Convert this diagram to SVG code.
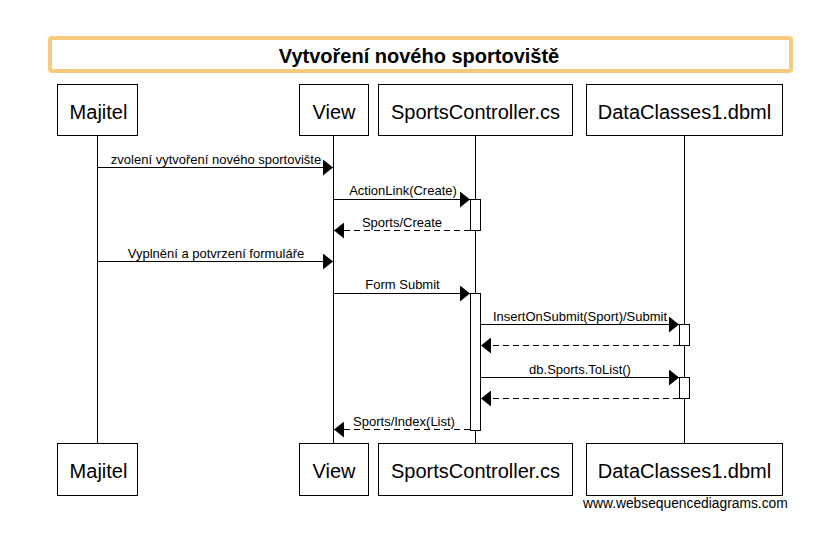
<svg xmlns="http://www.w3.org/2000/svg" width="828" height="552" viewBox="0 0 828 552">
  <style>
    .box { fill: #ffffff; stroke: #000000; stroke-width: 1; }
    .life { stroke: #000000; stroke-width: 1; fill: none; }
    .act { fill: #ffffff; stroke: #000000; stroke-width: 1; }
    .pname { font-family: "Liberation Sans", Arial, sans-serif; font-size: 20px; fill: #000000; text-anchor: middle; }
    .msg { stroke: #000000; stroke-width: 1; fill: none; marker-end: url(#ah); }
    .ret { stroke-dasharray: 6 4; }
    .lbl { font-family: "Liberation Sans", Arial, sans-serif; font-size: 13px; fill: #000000; text-anchor: middle; }
    .title { font-family: "Liberation Sans", Arial, sans-serif; font-size: 20px; font-weight: bold; fill: #000000; text-anchor: middle; }
  </style>
  <defs>
    <marker id="ah" viewBox="0 0 10 16" refX="10" refY="8" markerWidth="10" markerHeight="16" markerUnits="userSpaceOnUse" orient="auto">
      <path d="M0,0 L10,8 L0,16 Z" fill="#000000"/>
    </marker>
  </defs>
  <rect width="828" height="552" fill="#ffffff"/>

  <g id="title">
    <rect x="50" y="38" width="741" height="33" rx="2" fill="#ffffff" stroke="#f7ca7c" stroke-width="4"/>
    <text class="title" x="419" y="63">Vytvoření nového sportoviště</text>
  </g>

  <g id="lifelines">
    <line class="life" x1="97.5" y1="135.5" x2="97.5" y2="443.5"/>
    <line class="life" x1="333.5" y1="135.5" x2="333.5" y2="443.5"/>
    <line class="life" x1="475.5" y1="135.5" x2="475.5" y2="443.5"/>
    <line class="life" x1="684.5" y1="135.5" x2="684.5" y2="443.5"/>
  </g>

  <g id="majitel">
    <rect class="box" x="57.5" y="84.5" width="80" height="51"/>
    <text class="pname" x="98.5" y="118.5">Majitel</text>
    <rect class="box" x="57.5" y="443.5" width="80" height="52"/>
    <text class="pname" x="98.5" y="477.5">Majitel</text>
  </g>
  <g id="view">
    <rect class="box" x="299.5" y="84.5" width="69" height="51"/>
    <text class="pname" x="334" y="118.5">View</text>
    <rect class="box" x="299.5" y="443.5" width="69" height="52"/>
    <text class="pname" x="334" y="477.5">View</text>
  </g>
  <g id="sportscontroller">
    <rect class="box" x="378.5" y="84.5" width="194" height="51"/>
    <text class="pname" x="475.5" y="118.5">SportsController.cs</text>
    <rect class="box" x="378.5" y="443.5" width="194" height="52"/>
    <text class="pname" x="475.5" y="477.5">SportsController.cs</text>
  </g>
  <g id="dataclasses">
    <rect class="box" x="586.5" y="84.5" width="196" height="51"/>
    <text class="pname" x="684.5" y="118.5">DataClasses1.dbml</text>
    <rect class="box" x="586.5" y="443.5" width="196" height="52"/>
    <text class="pname" x="684.5" y="477.5">DataClasses1.dbml</text>
  </g>

  <g id="activations">
    <rect class="act" x="470.5" y="199.5" width="10" height="31"/>
    <rect class="act" x="470.5" y="293.5" width="10" height="137"/>
    <rect class="act" x="679.5" y="324.5" width="10" height="21"/>
    <rect class="act" x="679.5" y="377.5" width="10" height="21"/>
  </g>

  <g id="connectors">
    <line class="msg" x1="97.5" y1="167.5" x2="333" y2="167.5"/>
    <text class="lbl" x="216" y="164">zvolení vytvoření nového sportovište</text>

    <line class="msg" x1="333.5" y1="199.5" x2="470" y2="199.5"/>
    <text class="lbl" x="403" y="195">ActionLink(Create)</text>

    <line class="msg ret" x1="470" y1="230.5" x2="334" y2="230.5"/>
    <text class="lbl" x="402" y="226.5">Sports/Create</text>

    <line class="msg" x1="97.5" y1="261.5" x2="333" y2="261.5"/>
    <text class="lbl" x="216" y="257.5">Vyplnění a potvrzení formuláře</text>

    <line class="msg" x1="333.5" y1="293.5" x2="470" y2="293.5"/>
    <text class="lbl" x="402.5" y="289">Form Submit</text>

    <line class="msg" x1="480.5" y1="324.5" x2="679" y2="324.5"/>
    <text class="lbl" x="580" y="320.5">InsertOnSubmit(Sport)/Submit</text>

    <line class="msg ret" x1="679" y1="345.5" x2="481" y2="345.5"/>

    <line class="msg" x1="480.5" y1="377.5" x2="679" y2="377.5"/>
    <text class="lbl" x="580" y="373.5">db.Sports.ToList()</text>

    <line class="msg ret" x1="679" y1="398.5" x2="481" y2="398.5"/>

    <line class="msg ret" x1="470" y1="429.5" x2="334" y2="429.5"/>
    <text class="lbl" x="404" y="425.5">Sports/Index(List)</text>
  </g>

  <text x="583" y="507.5" font-family="Liberation Sans, Arial, sans-serif" font-size="13.8" fill="#000000">www.websequencediagrams.com</text>
</svg>
